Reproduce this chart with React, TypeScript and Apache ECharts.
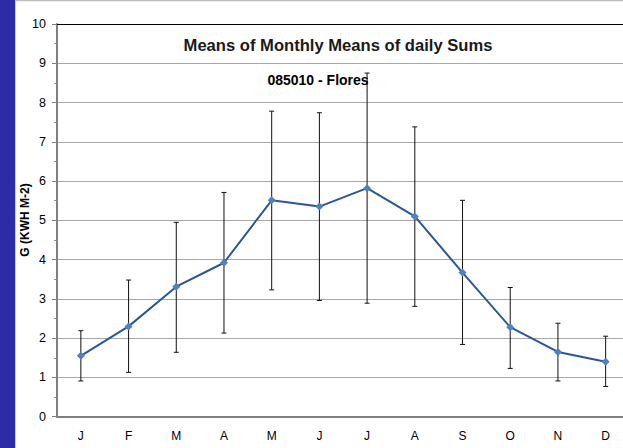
import React, { useEffect, useRef } from "react";
import * as echarts from "echarts";

const months = ["J", "F", "M", "A", "M", "J", "J", "A", "S", "O", "N", "D"];
const means = [1.55, 2.3, 3.31, 3.92, 5.51, 5.35, 5.82, 5.1, 3.67, 2.28, 1.65, 1.4];
const errHigh = [2.19, 3.48, 4.95, 5.71, 7.78, 7.74, 8.75, 7.38, 5.51, 3.29, 2.38, 2.05];
const errLow = [0.91, 1.13, 1.64, 2.13, 3.23, 2.96, 2.89, 2.81, 1.84, 1.23, 0.91, 0.77];
const yTicks = { min: 0, max: 10, interval: 1 };
const titleText = "Means of Monthly Means of daily Sums";
const subtitleText = "085010 - Flores";
const yName = "G (KWH M-2)";

export default function App() {
  const ref = useRef<HTMLDivElement>(null);
  useEffect(() => {
    if (!ref.current) return;
    const chart = echarts.init(ref.current, null, { renderer: "svg" });
    const errData = errLow.map((l, i) => [i, l, errHigh[i]]);
    chart.setOption({
      animation: false,
      backgroundColor: "#ffffff",
      textStyle: { fontFamily: "Liberation Sans, Arial, sans-serif" },
      grid: { left: 57, top: 24, right: 0.5, bottom: 31.3, containLabel: false },
      xAxis: {
        type: "category",
        data: months,
        boundaryGap: true,
        axisLine: { lineStyle: { color: "#808080", width: 2 } },
        axisTick: { show: false },
        axisLabel: { color: "#000", fontSize: 12, margin: 13 },
        splitLine: { show: false },
      },
      yAxis: {
        type: "value",
        min: yTicks.min,
        max: yTicks.max,
        interval: yTicks.interval,
        axisLine: { show: true, lineStyle: { color: "#808080", width: 2 } },
        axisTick: { show: true, length: 5, lineStyle: { color: "#808080" } },
        minorTick: { show: true, splitNumber: 2, length: 3, lineStyle: { color: "#909090" } },
        axisLabel: { color: "#000", fontSize: 12.5, margin: 11 },
        splitLine: { show: true, lineStyle: { color: "#a8a8a8", width: 1 } },
      },
      graphic: [
        { type: "rect", z: 100, shape: { x: 0, y: 0, width: 15, height: 448 }, style: { fill: "#2d2ca6" } },
        { type: "line", z: 100, shape: { x1: 15.5, y1: 0, x2: 15.5, y2: 448 }, style: { stroke: "#c9c9e6", lineWidth: 1 } },
        { type: "line", z: 100, shape: { x1: 16, y1: 0.5, x2: 630, y2: 0.5 }, style: { stroke: "#bdbdbd", lineWidth: 1.5 } },
        {
          type: "text", z: 100, x: 338, y: 45,
          style: { text: titleText, font: "bold 16.6px 'Liberation Sans', Arial, sans-serif", fill: "#1a1a1a", textAlign: "center", textVerticalAlign: "middle" },
        },
        {
          type: "text", z: 100, x: 318, y: 80,
          style: { text: subtitleText, font: "bold 14px 'Liberation Sans', Arial, sans-serif", fill: "#000", textAlign: "center", textVerticalAlign: "middle" },
        },
        {
          type: "text", z: 100, x: 25, y: 220, rotation: Math.PI / 2,
          style: { text: yName, font: "bold 12px 'Liberation Sans', Arial, sans-serif", fill: "#000", textAlign: "center", textVerticalAlign: "middle" },
        },
      ],
      series: [
        {
          type: "custom",
          z: 3,
          clip: false,
          encode: { x: 0, y: [1, 2] },
          data: errData,
          renderItem: (params: any, api: any) => {
            const i = api.value(0);
            const lo = api.coord([i, api.value(1)]);
            const hi = api.coord([i, api.value(2)]);
            const hw = 2.5;
            const st = { stroke: "#111", lineWidth: 1 };
            return {
              type: "group",
              children: [
                { type: "line", shape: { x1: lo[0], y1: lo[1], x2: hi[0], y2: hi[1] }, style: st },
                { type: "line", shape: { x1: hi[0] - hw, y1: hi[1], x2: hi[0] + hw, y2: hi[1] }, style: st },
                { type: "line", shape: { x1: lo[0] - hw, y1: lo[1], x2: lo[0] + hw, y2: lo[1] }, style: st },
              ],
            };
          },
        },
        {
          type: "line",
          z: 5,
          data: means,
          symbol: "diamond",
          symbolSize: 8,
          lineStyle: { color: "#2a5795", width: 2 },
          itemStyle: { color: "#4f81bd" },
          markLine: {
            silent: true,
            symbol: "none",
            label: { show: false },
            lineStyle: { color: "#000", width: 1, type: "solid" },
            data: [{ yAxis: yTicks.max }],
          },
        },
      ],
    });
    return () => chart.dispose();
  }, []);
  return <div ref={ref} style={{ position: "fixed", left: 0, top: 0, width: 630, height: 448 }} />;
}
